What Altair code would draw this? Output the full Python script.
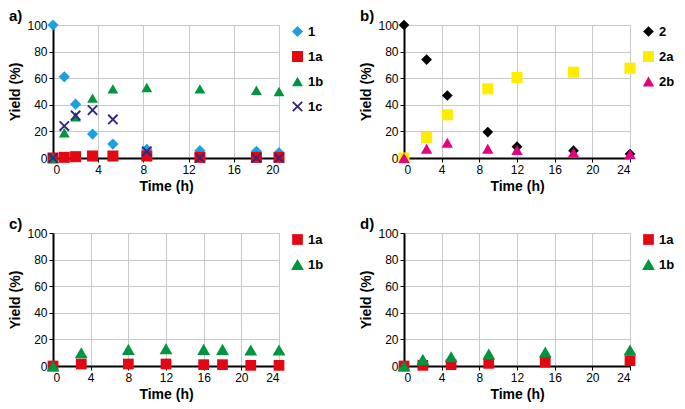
import altair as alt
import pandas as pd

FONT = "Liberation Sans"

# ---- Panel a ----
a_time = [0, 1, 2, 3.5, 5.3, 8.3, 13, 18, 20]
a_1 = [100, 61, 40.5, 18, 10.5, 6.5, 5.5, 5, 4]
a_1a = [0, 0.5, 1, 1.5, 1.5, 1.5, 0.5, 0.5, 0.5]
a_1b = [0, 19, 31, 45, 52, 53, 52, 51, 50]
a_1c = [0, 24, 32, 36, 29, 5, 0, 0, 0]

# ---- Panel b ----
b_time = [0, 2.4, 4.6, 8.9, 12, 18, 24]
b_2 = [100, 74, 47, 19.5, 8.5, 5.5, 3]
b_2a = [0, 15.5, 32.5, 52, 60.5, 64.5, 67.5]
b_2b = [0, 7, 11.5, 7, 6, 4, 3]

# ---- Panel c ----
c_time = [0, 3, 8, 12, 16, 18, 21, 24]
c_1a = [0, 1.5, 1.5, 1.5, 1, 1, 0.5, 0.5]
c_1b = [0, 10, 12.5, 13, 12.5, 12.5, 12, 12]

# ---- Panel d ----
d_time = [0, 2, 5, 9, 15, 24]
d_1a = [0, 0.5, 1, 2, 3, 4]
d_1b = [0, 5, 7, 9, 10.5, 12]

X_PATH = ("M-1,-0.75L-0.75,-1L0,-0.25L0.75,-1L1,-0.75L0.25,0L1,0.75"
          "L0.75,1L0,0.25L-0.75,1L-1,0.75L-0.25,0Z")

W, H = 226, 133


def panel(letter, times, series, names, colors, shapes, sizes, xmax):
    rows = []
    for name, vals in zip(names, series):
        for t, v in zip(times, vals):
            rows.append({"Time": t, "Yield": v, "Series": name})
    df = pd.DataFrame(rows)
    df["order"] = range(len(df))
    return alt.Chart(df).mark_point(filled=True, opacity=1, clip=False).encode(
        x=alt.X("Time:Q",
                scale=alt.Scale(domain=[0, xmax], nice=False, zero=True),
                axis=alt.Axis(values=list(range(0, xmax + 1, 4)), title="Time (h)")),
        y=alt.Y("Yield:Q",
                scale=alt.Scale(domain=[0, 100], nice=False),
                axis=alt.Axis(values=[0, 20, 40, 60, 80, 100], title="Yield (%)")),
        color=alt.Color("Series:N", scale=alt.Scale(domain=names, range=colors),
                        legend=alt.Legend(title=None)),
        shape=alt.Shape("Series:N", scale=alt.Scale(domain=names, range=shapes),
                        legend=alt.Legend(title=None)),
        size=alt.Size("Series:N", scale=alt.Scale(domain=names, range=sizes),
                      legend=None),
        order=alt.Order("order:Q"),
    ).properties(
        width=W, height=H,
        title=alt.TitleParams(letter, anchor="start", frame="bounds"),
    )


pa = panel("a)", a_time, [a_1, a_1a, a_1b, a_1c], ["1", "1a", "1b", "1c"],
           ["#1ba1e2", "#e30613", "#009640", "#312783"],
           ["diamond", "square", "triangle-up", X_PATH],
           [125, 115, 165, 150], 20)
pb = panel("b)", b_time, [b_2, b_2a, b_2b], ["2", "2a", "2b"],
           ["#000000", "#ffec00", "#e5007e"],
           ["diamond", "square", "triangle-up"],
           [115, 130, 140], 24)
pc = panel("c)", c_time, [c_1a, c_1b], ["1a", "1b"],
           ["#e30613", "#009640"],
           ["square", "triangle-up"],
           [115, 165], 24)
pd_ = panel("d)", d_time, [d_1a, d_1b], ["1a", "1b"],
            ["#e30613", "#009640"],
            ["square", "triangle-up"],
            [115, 165], 24)

chart = alt.concat(
    pa, pb, pc, pd_, columns=2,
    spacing=alt.RowColnumber(row=22, column=34),
).resolve_scale(
    color="independent", shape="independent", size="independent"
).properties(padding=0).configure_axis(
    labelFont=FONT, titleFont=FONT, labelFontSize=12, titleFontSize=14,
    titleFontWeight="bold", labelColor="black", titleColor="black",
    gridColor="#c8c8c8", domainColor="black", domainWidth=2,
    tickColor="black", tickSize=4, labelPadding=2, titlePadding=4,
).configure_view(stroke="#c8c8c8").configure_title(
    font=FONT, fontSize=15, fontWeight="bold", color="black", offset=-5,
).configure_legend(
    labelFont=FONT, labelFontSize=13, labelFontWeight="bold", labelColor="black",
    symbolSize=110, rowPadding=11, offset=12, padding=0, symbolStrokeWidth=0,
)

chart.save("out.html", embed_options={"renderer": "svg", "actions": False})
